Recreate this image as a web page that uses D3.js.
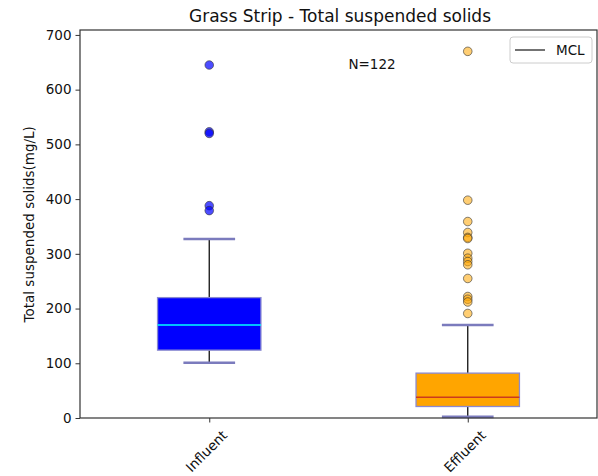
<!DOCTYPE html>
<html>
<head>
<meta charset="utf-8">
<script src="https://cdn.jsdelivr.net/npm/d3@7"></script>
<style>
  body { margin: 0; background: #fff; }
  text { font-family: "DejaVu Sans", sans-serif; }
</style>
</head>
<body>
<div id="chartArea"></div>
<script>
// values
var categories = ['Influent', 'Effluent'];
var whiskerLow = [101, 2];
var q1 = [124, 21];
var median = [170, 38];
var q3 = [220, 82];
var whiskerHigh = [327, 170];
var influentOutliers = [645, 523, 520, 388, 379];
var effluentOutliers = [670, 398, 359, 339, 330, 328, 301, 292, 286, 280, 255, 222, 217, 212, 191];
var yTicks = [0, 100, 200, 300, 400, 500, 600, 700];

var width = 598, height = 476;
var margin = {top: 30, right: 1, bottom: 58, left: 80};
var boxFill = ['#0000ff', '#ffa500'];
var medianColor = ['#00ffff', '#cc3a1c'];
var outlierFill = ['#0000ff', '#ffa500'];
var outlierAlpha = [0.7, 0.55];
var fs = 13.5;

var svg = d3.select('#chartArea').append('svg')
    .attr('width', width).attr('height', height);

var x = d3.scaleLinear().domain([0.5, 2.5]).range([margin.left, width - margin.right]);
var y = d3.scaleLinear().domain([0, 709]).range([height - margin.bottom, margin.top]);

var boxes = categories.map(function(c, i) {
    return {name: c, pos: i + 1, lo: whiskerLow[i], q1: q1[i], med: median[i], q3: q3[i], hi: whiskerHigh[i], i: i};
});

var g = svg.append('g');

// whiskers
g.selectAll('.wlow').data(boxes).enter().append('line')
    .attr('x1', d => x(d.pos)).attr('x2', d => x(d.pos))
    .attr('y1', d => y(d.lo)).attr('y2', d => y(d.q1))
    .attr('stroke', '#111').attr('stroke-width', 1.3);
g.selectAll('.whigh').data(boxes).enter().append('line')
    .attr('x1', d => x(d.pos)).attr('x2', d => x(d.pos))
    .attr('y1', d => y(d.hi)).attr('y2', d => y(d.q3))
    .attr('stroke', '#111').attr('stroke-width', 1.3);

// caps
['lo', 'hi'].forEach(function(k) {
    g.selectAll('.cap' + k).data(boxes).enter().append('line')
        .attr('x1', d => x(d.pos - 0.1)).attr('x2', d => x(d.pos + 0.1))
        .attr('y1', d => y(d[k])).attr('y2', d => y(d[k]))
        .attr('stroke', '#7b7bbd').attr('stroke-width', 2.6);
});

// boxes
g.selectAll('.box').data(boxes).enter().append('rect')
    .attr('x', d => x(d.pos - 0.2)).attr('width', d => x(d.pos + 0.2) - x(d.pos - 0.2))
    .attr('y', d => y(d.q3)).attr('height', d => y(d.q1) - y(d.q3))
    .attr('fill', d => boxFill[d.i]).attr('stroke', '#8a8ad0').attr('stroke-width', 1.3);

g.selectAll('.med').data(boxes).enter().append('line')
    .attr('x1', d => x(d.pos - 0.2)).attr('x2', d => x(d.pos + 0.2))
    .attr('y1', d => y(d.med)).attr('y2', d => y(d.med))
    .attr('stroke', d => medianColor[d.i]).attr('stroke-width', 1.5);

// outliers
[influentOutliers, effluentOutliers].forEach(function(arr, i) {
    g.selectAll('.out' + i).data(arr).enter().append('circle')
        .attr('cx', x(i + 1)).attr('cy', d => y(d)).attr('r', 4.3)
        .attr('fill', outlierFill[i]).attr('fill-opacity', outlierAlpha[i])
        .attr('stroke', '#333').attr('stroke-opacity', 0.6).attr('stroke-width', 1);
});

// frame
svg.append('rect')
    .attr('x', margin.left).attr('y', margin.top)
    .attr('width', width - margin.right - margin.left)
    .attr('height', height - margin.bottom - margin.top)
    .attr('fill', 'none').attr('stroke', '#333').attr('stroke-width', 1.2);

// y axis
var yAxis = svg.append('g').attr('transform', 'translate(' + margin.left + ',0)')
    .call(d3.axisLeft(y).tickValues(yTicks).tickSize(4.5).tickPadding(4));
yAxis.select('.domain').remove();
yAxis.selectAll('line').attr('stroke', '#333');
yAxis.selectAll('text').attr('font-size', fs).attr('fill', '#111')
    .style('font-family', '"DejaVu Sans", sans-serif');

// x axis
var xAxis = svg.append('g').attr('transform', 'translate(0,' + (height - margin.bottom) + ')')
    .call(d3.axisBottom(x).tickValues([1, 2]).tickSize(4.5).tickFormat(''));
xAxis.select('.domain').remove();
xAxis.selectAll('line').attr('stroke', '#333');

boxes.forEach(function(d) {
    var t = svg.append('text').text(d.name).attr('font-size', fs).attr('fill', '#111')
        .attr('text-anchor', 'middle').attr('dominant-baseline', 'central');
    var w = t.node().getComputedTextLength();
    var h = (w + fs) * Math.SQRT1_2;
    t.attr('transform', 'translate(' + (x(d.pos) - 3) + ',' + (height - margin.bottom + 10 + h / 2) + ') rotate(-45)');
});

// labels
svg.append('text').attr('x', 340).attr('y', 22)
    .attr('text-anchor', 'middle').attr('font-size', 17).attr('fill', '#111')
    .text('Grass Strip - Total suspended solids');

svg.append('text').attr('transform', 'translate(34,' + y(354) + ') rotate(-90)')
    .attr('text-anchor', 'middle').attr('font-size', fs).attr('fill', '#111')
    .text('Total suspended solids(mg/L)');

svg.append('text').attr('x', 372).attr('y', 69).attr('text-anchor', 'middle')
    .attr('font-size', fs).attr('fill', '#111').text('N=122');

// legend
var lg = svg.append('g').attr('transform', 'translate(510,37)');
lg.append('rect').attr('width', 82).attr('height', 26).attr('rx', 3)
    .attr('fill', '#fff').attr('fill-opacity', 0.8).attr('stroke', '#ccc');
lg.append('line').attr('x1', 5).attr('x2', 35).attr('y1', 13).attr('y2', 13)
    .attr('stroke', '#444').attr('stroke-width', 1.5);
lg.append('text').attr('x', 46).attr('y', 18).attr('font-size', fs).attr('fill', '#111').text('MCL');
</script>
</body>
</html>
